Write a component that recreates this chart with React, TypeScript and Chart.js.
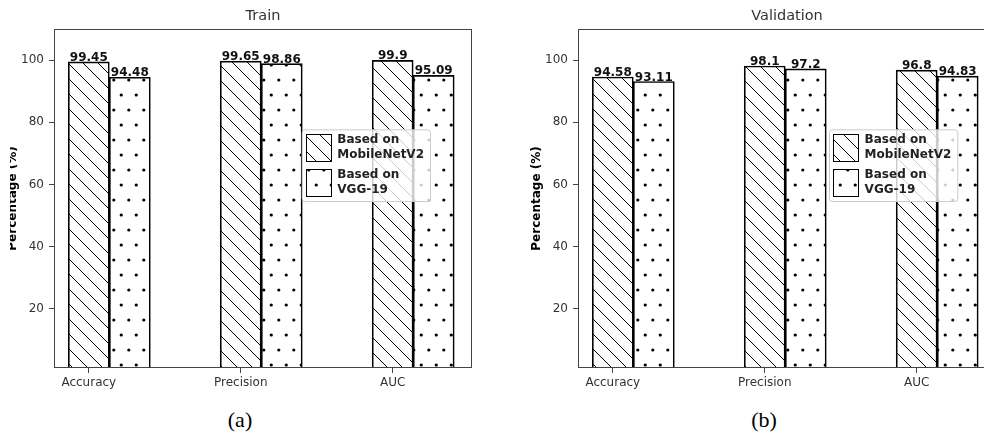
import React, { useEffect, useRef } from 'react';
import { Chart, registerables } from 'chart.js';

Chart.register(...registerables);
Chart.defaults.font.family = "'DejaVu Sans', sans-serif";

// ---------------- data ----------------
const CATEGORIES = ['Accuracy', 'Precision', 'AUC'];
const SERIES_LABELS = ['Based on\nMobileNetV2', 'Based on\nVGG-19'];
const TRAIN_MOBILENET = [99.45, 99.65, 99.9];
const TRAIN_VGG = [94.48, 98.86, 95.09];
const VAL_MOBILENET = [94.58, 98.1, 96.8];
const VAL_VGG = [93.11, 97.2, 94.83];
const Y_TICKS = [20, 40, 60, 80, 100];
const Y_TITLE = 'Percentage (%)';
const Y_MIN = 1;
const Y_MAX = 110;
const X_MIN = -0.229;
const X_MAX = 2.522;
const BAR_WIDTH = 0.27;

// ---------------- patterns ----------------
function makeLinePattern(ctx: CanvasRenderingContext2D) {
  const s = 15;
  const c = document.createElement('canvas');
  c.width = s;
  c.height = s;
  const g = c.getContext('2d')!;
  g.strokeStyle = '#000';
  g.lineWidth = 1;
  const off = 10;
  for (let k = -2; k <= 2; k++) {
    g.beginPath();
    g.moveTo(-s, -s + off + k * s);
    g.lineTo(2 * s, 2 * s + off + k * s);
    g.stroke();
  }
  return ctx.createPattern(c, 'repeat')!;
}

function makeDotPattern(ctx: CanvasRenderingContext2D) {
  const w = 15;
  const h = 30;
  const c = document.createElement('canvas');
  c.width = w;
  c.height = h;
  const g = c.getContext('2d')!;
  g.fillStyle = '#000';
  const pts = [
    [1.3, 5],
    [8.8, 20],
  ];
  for (const [px, py] of pts) {
    for (const dx of [-w, 0, w]) {
      for (const dy of [-h, 0, h]) {
        g.beginPath();
        g.arc(px + dx, py + dy, 1.6, 0, Math.PI * 2);
        g.fill();
      }
    }
  }
  return ctx.createPattern(c, 'repeat')!;
}

// ---------------- plugins ----------------
const framePlugin = {
  id: 'frame',
  afterDatasetsDraw(chart: any) {
    const { ctx, chartArea } = chart;
    const l = Math.round(chartArea.left) + 0.5;
    const t = Math.round(chartArea.top) + 0.5;
    const r = Math.round(chartArea.right) - 0.5;
    const b = Math.round(chartArea.bottom) - 0.5;
    ctx.save();
    ctx.strokeStyle = '#444';
    ctx.lineWidth = 1;
    ctx.strokeRect(l, t, r - l, b - t);
    ctx.restore();
  },
};

const valueLabelPlugin = {
  id: 'valueLabels',
  afterDatasetsDraw(chart: any) {
    const { ctx } = chart;
    ctx.save();
    ctx.font = "bold 12px 'DejaVu Sans', sans-serif";
    ctx.fillStyle = '#111';
    ctx.textAlign = 'center';
    ctx.textBaseline = 'alphabetic';
    chart.data.datasets.forEach((ds: any, i: number) => {
      const meta = chart.getDatasetMeta(i);
      meta.data.forEach((el: any, j: number) => {
        ctx.fillText(String(ds.data[j].y), el.x, el.y - 1);
      });
    });
    ctx.restore();
  },
};

const hatchLegendPlugin = {
  id: 'hatchLegend',
  afterDraw(chart: any, _args: any, opts: any) {
    const { ctx, chartArea } = chart;
    const bx = chartArea.left + opts.x * (chartArea.right - chartArea.left);
    const by = chartArea.top + opts.y * (chartArea.bottom - chartArea.top);
    ctx.save();
    ctx.font = "bold 12px 'DejaVu Sans', sans-serif";
    let maxW = 0;
    chart.data.datasets.forEach((ds: any) => {
      ds.label.split('\n').forEach((line: string) => {
        maxW = Math.max(maxW, ctx.measureText(line).width);
      });
    });
    const textOff = 35.6;
    const bw = textOff + maxW + 6;
    const bh = 71.7;
    ctx.beginPath();
    ctx.roundRect(bx + 0.5, by + 0.5, bw, bh, 3);
    ctx.fillStyle = 'rgba(255,255,255,0.8)';
    ctx.fill();
    ctx.strokeStyle = '#cccccc';
    ctx.lineWidth = 1;
    ctx.stroke();
    chart.data.datasets.forEach((ds: any, i: number) => {
      const px = Math.round(bx + 4) + 0.5;
      const py = Math.round(by + 4.7 + 34.5 * i) + 0.5;
      ctx.fillStyle = ds.backgroundColor;
      ctx.fillRect(px, py, 25, 27);
      ctx.strokeStyle = '#000';
      ctx.strokeRect(px, py, 25, 27);
      ctx.fillStyle = '#222';
      ctx.textAlign = 'left';
      ctx.textBaseline = 'alphabetic';
      ds.label.split('\n').forEach((line: string, k: number) => {
        ctx.fillText(line, bx + textOff, by + 14 + 35 * i + 14.3 * k);
      });
    });
    ctx.restore();
  },
};

// ---------------- chart panel ----------------
function Panel(props: { title: string; mob: number[]; vgg: number[]; legendX: number }) {
  const ref = useRef<HTMLCanvasElement | null>(null);
  useEffect(() => {
    const canvas = ref.current!;
    const ctx = canvas.getContext('2d')!;
    const linePat = makeLinePattern(ctx);
    const dotPat = makeDotPattern(ctx);
    const chart = new Chart(canvas, {
      type: 'bar',
      data: {
        datasets: [
          {
            label: SERIES_LABELS[0],
            data: props.mob.map((v, i) => ({ x: i, y: v })),
            backgroundColor: linePat as any,
            borderColor: '#000',
            borderWidth: 1,
            borderSkipped: false,
            grouped: false,
            barPercentage: 1,
            categoryPercentage: 1,
          },
          {
            label: SERIES_LABELS[1],
            data: props.vgg.map((v, i) => ({ x: i + BAR_WIDTH, y: v })),
            backgroundColor: dotPat as any,
            borderColor: '#000',
            borderWidth: 1,
            borderSkipped: false,
            grouped: false,
            barPercentage: 1,
            categoryPercentage: 1,
          },
        ],
      } as any,
      options: {
        animation: false,
        responsive: false,
        devicePixelRatio: 1,
        events: [],
        layout: { padding: { left: 0, right: 48, top: 0, bottom: 2 } },
        scales: {
          x: {
            type: 'linear',
            min: X_MIN,
            max: X_MAX,
            bounds: 'data',
            offset: false,
            grid: { offset: false, drawOnChartArea: false, tickLength: 5, color: '#444' },
            border: { display: false },
            ticks: {
              color: '#333',
              font: { size: 12 },
              padding: 3,
              maxRotation: 0,
              autoSkip: false,
              callback: (v: any) => CATEGORIES[v as number] ?? '',
            },
            afterBuildTicks: (scale: any) => {
              scale.ticks = CATEGORIES.map((_, i) => ({ value: i }));
            },
            afterFit: (scale: any) => {
              scale.height = 30;
            },
          },
          y: {
            type: 'linear',
            min: Y_MIN,
            max: Y_MAX,
            bounds: 'data',
            grid: { drawOnChartArea: false, tickLength: 5, color: '#444' },
            border: { display: false },
            ticks: { color: '#333', font: { size: 12 }, padding: 5 },
            afterBuildTicks: (scale: any) => {
              scale.ticks = Y_TICKS.map((v) => ({ value: v }));
            },
            afterFit: (scale: any) => {
              scale.width = 54;
            },
            title: {
              display: true,
              text: Y_TITLE,
              color: '#000',
              font: { size: 12, weight: 'bold' },
              padding: 5.2,
            },
          },
        } as any,
        plugins: {
          legend: { display: false },
          tooltip: { enabled: false },
          title: {
            display: true,
            text: props.title,
            fullSize: false,
            color: '#333',
            font: { size: 14.5, weight: 'normal' },
            padding: { top: 7.3, bottom: 4.3 },
          },
          hatchLegend: { x: props.legendX, y: 0.296 },
        } as any,
      },
      plugins: [framePlugin, valueLabelPlugin, hatchLegendPlugin],
    });
    return () => chart.destroy();
  }, []);
  return (
    <canvas
      ref={ref}
      width={520}
      height={400}
      style={{ display: 'block', width: 520, height: 400 }}
    />
  );
}

const captionStyle: React.CSSProperties = {
  position: 'absolute',
  top: 420,
  transform: 'translate(-50%, -50%)',
  fontFamily: "'Liberation Serif', 'Times New Roman', serif",
  fontSize: 22,
  lineHeight: '22px',
  color: '#000',
  whiteSpace: 'nowrap',
};

export default function App() {
  return (
    <div
      style={{
        position: 'absolute',
        left: 0,
        top: 0,
        width: 984,
        height: 435,
        overflow: 'hidden',
        background: '#fff',
      }}
    >
      <div style={{ position: 'absolute', left: 9.5, top: 0, width: 480.5, height: 400, overflow: 'hidden' }}>
        <div style={{ position: 'absolute', left: -9.5, top: 0 }}>
          <Panel title="Train" mob={TRAIN_MOBILENET} vgg={TRAIN_VGG} legendX={0.5926} />
        </div>
      </div>
      <div style={{ position: 'absolute', left: 524, top: 0 }}>
        <Panel title="Validation" mob={VAL_MOBILENET} vgg={VAL_VGG} legendX={0.6005} />
      </div>
      <div style={{ ...captionStyle, left: 240 }}>(a)</div>
      <div style={{ ...captionStyle, left: 764 }}>(b)</div>
    </div>
  );
}
